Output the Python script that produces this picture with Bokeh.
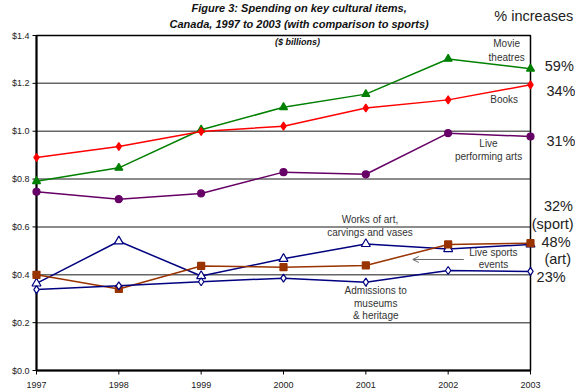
import math
from bokeh.plotting import figure
from bokeh.models import Range1d, Label, Arrow, OpenHead
from bokeh.core.properties import value
from bokeh.embed import file_html
from bokeh.resources import INLINE

years = [1997, 1998, 1999, 2000, 2001, 2002, 2003]
year_labels = ["1997", "1998", "1999", "2000", "2001", "2002", "2003"]
movie_theatres = [0.791, 0.847, 1.006, 1.100, 1.155, 1.302, 1.261]
books = [0.890, 0.936, 0.999, 1.021, 1.097, 1.131, 1.194]
live_performing_arts = [0.747, 0.716, 0.740, 0.829, 0.820, 0.992, 0.978]
works_of_art = [0.364, 0.540, 0.395, 0.467, 0.529, 0.508, 0.527]
live_sports = [0.400, 0.341, 0.437, 0.432, 0.439, 0.527, 0.532]
admissions = [0.338, 0.354, 0.371, 0.386, 0.369, 0.418, 0.414]
y_ticks = [0.0, 0.2, 0.4, 0.6, 0.8, 1.0, 1.2, 1.4]
y_tick_labels = ["$0.0", "$0.2", "$0.4", "$0.6", "$0.8", "$1.0", "$1.2", "$1.4"]

FONT = "Liberation Sans"

# frame covers the whole canvas, so texts around the data box are not clipped
p = figure(width=575, height=391, output_backend="svg", toolbar_location=None,
           x_range=Range1d(1996.5627, 2003.5466), y_range=Range1d(-0.08776, 1.5463),
           x_axis_location=None, y_axis_location=None,
           min_border_left=0, min_border_right=0, min_border_top=0, min_border_bottom=0)
p.background_fill_color = "white"
p.border_fill_color = "white"
p.outline_line_color = None
p.grid.visible = False

# horizontal gridlines within the data box
grid_vals = y_ticks[1:-1]
p.segment(x0=[years[0]] * len(grid_vals), x1=[years[-1]] * len(grid_vals), y0=grid_vals, y1=grid_vals,
          line_color="#666666", line_width=1.5)
# data box and axis lines
p.quad(left=[years[0]], right=[years[-1]], bottom=[y_ticks[0]], top=[y_ticks[-1]],
       fill_color=None, line_color="black", line_width=1.5)
p.segment(x0=[years[0], years[0]], x1=[years[0], years[-1]], y0=[y_ticks[0], y_ticks[0]],
          y1=[y_ticks[-1], y_ticks[0]], line_color="black", line_width=2)

# y axis ticks and labels
p.ray(x=[years[0]] * len(y_ticks), y=y_ticks, length=4, length_units="screen", angle=math.pi,
      line_color="black", line_width=1)
p.text(x=[years[0]] * len(y_ticks), y=y_ticks, text=y_tick_labels, x_offset=-7,
       text_align="right", text_baseline="middle", text_font=value(FONT), text_font_size="9px",
       text_color="#222222")
# x axis ticks and labels
p.ray(x=years, y=[y_ticks[0]] * len(years), length=4, length_units="screen", angle=-math.pi / 2,
      line_color="black", line_width=1)
p.text(x=years, y=[y_ticks[0]] * len(years), text=year_labels, y_offset=14,
       text_align="center", text_baseline="middle", text_font=value(FONT), text_font_size="9px",
       text_color="#222222")

series = [
    (movie_theatres, "#008000", "triangle", "#008000", 8),
    (books, "#ff0000", "diamond", "#ff0000", 8),
    (live_performing_arts, "#660066", "circle", "#660066", 7),
    (works_of_art, "#000080", "triangle", "white", 9),
    (live_sports, "#993300", "square", "#993300", 7),
    (admissions, "#000080", "diamond", "white", 8),
]
for vals, col, marker, fill, size in series:
    p.line(years, vals, line_color=col, line_width=1.5)
    p.scatter(years, vals, marker=marker, size=size, line_color=col, fill_color=fill, line_width=1.2)

def lab(text, x, y, size="10px", align="center", style="normal", color="#333333"):
    p.add_layout(Label(x=x, y=y, text=text, text_font=FONT, text_font_size=size,
                       text_align=align, text_baseline="middle", text_font_style=style,
                       text_color=color))

# titles
lab("Figure 3: Spending on key cultural items,", 2000.19, 1.513, "11px", style="bold italic", color="#111111")
lab("Canada, 1997 to 2003 (with comparison to sports)", 2000.19, 1.450, "11px", style="bold italic", color="#111111")
lab("($ billions)", 2000.17, 1.371, "9px", style="bold italic", color="#111111")
lab("% increases", 2003.04, 1.483, "14.5px", color="#222222")

# series labels
lab("Movie", 2002.71, 1.366)
lab("theatres", 2002.71, 1.309)
lab("Books", 2002.68, 1.132)
lab("Live", 2002.49, 0.949)
lab("performing arts", 2002.49, 0.894)
lab("Works of art,", 2001.05, 0.631)
lab("carvings and vases", 2001.05, 0.577)
lab("Live sports", 2002.55, 0.493)
lab("events", 2002.55, 0.443)
lab("Admissions to", 2001.12, 0.334)
lab("museums", 2001.12, 0.280)
lab("& heritage", 2001.12, 0.230)

# percentage increases
lab("59%", 2003.35, 1.274, "14.5px", color="#222222")
lab("34%", 2003.37, 1.167, "14.5px", color="#222222")
lab("31%", 2003.37, 0.961, "14.5px", color="#222222")
lab("32%", 2003.34, 0.689, "14.5px", color="#222222")
lab("(sport)", 2003.27, 0.614, "14.5px", color="#222222")
lab("48%", 2003.31, 0.539, "14.5px", color="#222222")
lab("(art)", 2003.33, 0.464, "14.5px", color="#222222")
lab("23%", 2003.25, 0.389, "14.5px", color="#222222")

p.add_layout(Arrow(end=OpenHead(size=6, line_color="#666666", line_width=1),
                   x_start=2002.19, y_start=0.464, x_end=2001.57, y_end=0.464,
                   line_color="#666666", line_width=1))

open("out.html", "w").write(file_html(p, INLINE))
